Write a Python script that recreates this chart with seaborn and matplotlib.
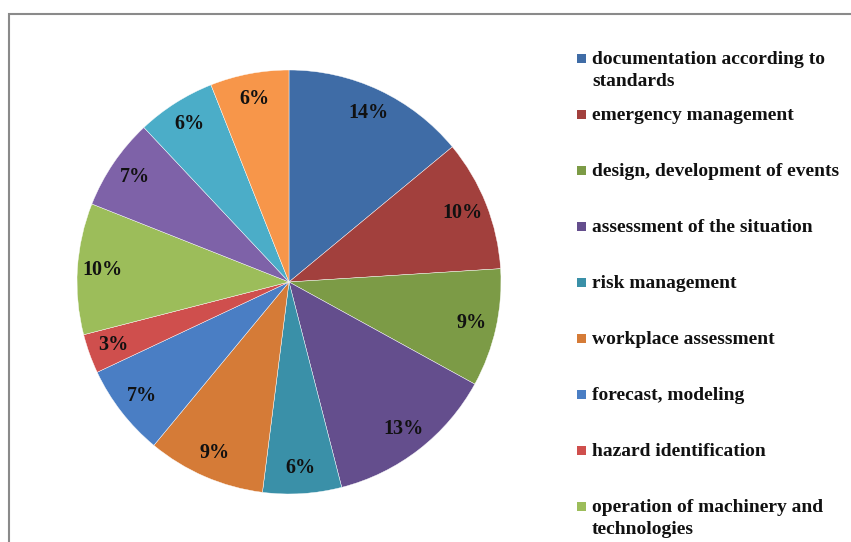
import matplotlib
matplotlib.use("Agg")
import matplotlib.pyplot as plt
from matplotlib.patches import Rectangle
import seaborn as sns

sns.set_theme(style="white")
plt.rcParams["font.family"] = ["Liberation Serif", "DejaVu Serif"]

categories = [
    "documentation according to\nstandards",
    "emergency management",
    "design, development of events",
    "assessment of the situation",
    "risk management",
    "workplace assessment",
    "forecast, modeling",
    "hazard identification",
    "operation of machinery and\ntechnologies",
    "category 10",
    "category 11",
    "category 12",
]
shares = [14, 10, 9, 13, 6, 9, 7, 3, 10, 7, 6, 6]
colors = ["#3F6CA6", "#A2403D", "#7C9B46", "#644E8D", "#3A90A8", "#D57B37",
          "#4A7EC4", "#CF4F4D", "#9CBD5A", "#7E62A8", "#4BADC8", "#F7964A"]
legend_count = 9  # entries visible in the reference legend

W, H = 851, 542
fig = plt.figure(figsize=(W / 100, H / 100), dpi=100)

# outer frame (runs off the right/bottom edges)
fig.patches.append(Rectangle((9 / W, -0.1), 1.1, 1 - 14 / H + 0.1,
                             transform=fig.transFigure, fill=False,
                             edgecolor="#8a8a8a", linewidth=1.5))

cx, cy, r = 289, 282, 212
ax = fig.add_axes([(cx - r) / W, (H - cy - r) / H, 2 * r / W, 2 * r / H])
wedges, texts, autotexts = ax.pie(
    shares, colors=colors, startangle=90, counterclock=False,
    autopct="%.0f%%", pctdistance=0.88, radius=1,
    wedgeprops=dict(edgecolor="white", linewidth=0.3),
    textprops=dict(fontsize=14.5, fontweight="bold", color="#111111"))
ax.set_xlim(-1, 1)
ax.set_ylim(-1, 1)
ax.set_aspect("equal")
ax.axis("off")

# legend (laid out like the original spreadsheet legend)
for i in range(legend_count):
    y_line = 58 + 56 * i
    fig.patches.append(Rectangle((577 / W, 1 - (y_line + 4.5) / H), 9 / W, 9 / H,
                                 transform=fig.transFigure,
                                 facecolor=colors[i], edgecolor="none"))
    fig.text(592 / W, 1 - (y_line - 7) / H, categories[i], ha="left", va="top",
             fontsize=14, fontweight="bold", color="#111111", linespacing=1.38)

fig.savefig("out.png", dpi=100, facecolor="white")
